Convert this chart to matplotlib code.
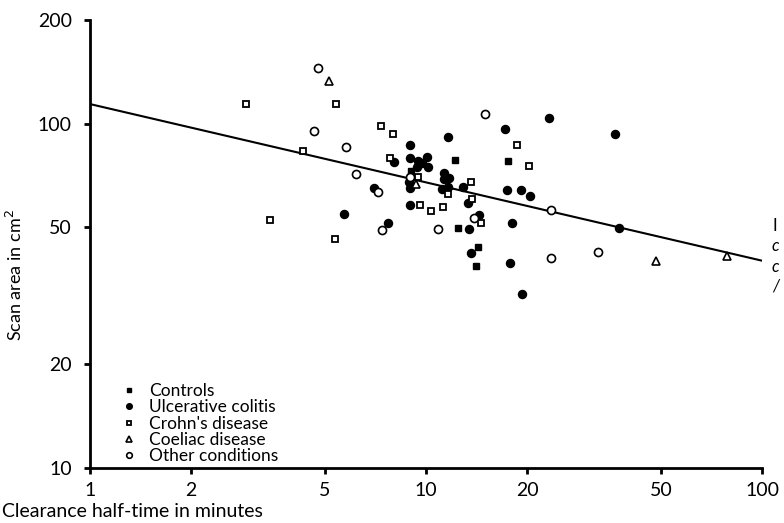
import matplotlib
matplotlib.use("Agg")
import matplotlib.pyplot as plt

# ---- data ----
controls_x = [9.00, 12.22, 17.51, 12.43, 14.31, 14.09]
controls_y = [72.9, 78.5, 77.9, 49.9, 43.7, 38.7]

uc_x = [5.69, 6.98, 7.70, 8.01, 8.98, 8.99, 8.93, 8.98, 8.96,
        9.47, 10.05, 9.38, 10.16, 9.75,
        11.60, 11.33, 11.73, 11.31, 11.13, 11.65, 12.86, 13.29, 14.41,
        13.40, 13.57, 17.19, 23.28, 17.48, 19.17, 20.40, 18.09, 17.84,
        19.27, 36.4, 37.6]
uc_y = [54.8, 64.9, 51.6, 77.3, 86.9, 79.7, 67.8, 64.9, 58.0,
        78.0, 80.0, 74.8, 74.8, 76.8,
        91.5, 71.9, 69.5, 68.9, 64.6, 65.3, 65.5, 58.7, 54.4,
        49.4, 42.1, 96.6, 104.1, 64.3, 64.0, 61.5, 51.6, 39.3,
        32.1, 93.1, 49.7]

crohn_x = [2.91, 5.39, 4.30, 7.35, 7.96, 7.81, 3.43, 5.37, 9.49, 9.60,
           10.35, 11.25, 11.63, 13.59, 13.71, 14.61, 18.72, 20.3]
crohn_y = [113.8, 113.8, 83.1, 98.5, 93.3, 79.3, 52.4, 46.1, 69.8, 58.2,
           55.6, 57.4, 62.5, 67.5, 60.6, 51.3, 86.6, 75.3]

coeliac_x = [5.16, 48.5, 78.7, 9.32]
coeliac_y = [132.6, 39.95, 41.2, 66.9]

other_x = [4.78, 4.64, 5.79, 6.20, 7.18, 7.41, 14.95, 10.82, 8.94, 13.94,
           23.6, 23.6, 32.4]
other_y = [145.0, 95.4, 85.3, 71.2, 63.2, 49.1, 106.4, 49.3, 69.9, 53.1,
           56.2, 40.6, 42.3]

fit_x = [1, 100]
fit_y = [114, 40]

x_ticks = [1, 2, 5, 10, 20, 50, 100]
y_ticks = [10, 20, 50, 100, 200]

labels = ["Controls", "Ulcerative colitis", "Crohn's disease",
          "Coeliac disease", "Other conditions"]

# ---- figure ----
plt.rcParams['font.family'] = ['Lato', 'DejaVu Sans']
fig = plt.figure(figsize=(7.84, 5.23), dpi=100)
ax = fig.add_axes([90/784, 1 - 468/523, 672/784, 448/523])

ax.set_xscale('log')
ax.set_yscale('log')
ax.set_xlim(1, 100)
ax.set_ylim(10, 200)

ax.plot(fit_x, fit_y, color='black', lw=1.5, zorder=2)

ms = 5.8
ax.plot(controls_x, controls_y, ls='none', marker='s', ms=5.0,
        mfc='black', mec='black', label=labels[0], zorder=3)
ax.plot(uc_x, uc_y, ls='none', marker='o', ms=ms,
        mfc='black', mec='black', label=labels[1], zorder=3)
ax.plot(crohn_x, crohn_y, ls='none', marker='s', ms=4.6,
        mfc='white', mec='black', mew=1.3, label=labels[2], zorder=3)
ax.plot(coeliac_x, coeliac_y, ls='none', marker='^', ms=5.2,
        mfc='white', mec='black', mew=1.2, label=labels[3], zorder=3)
ax.plot(other_x, other_y, ls='none', marker='o', ms=ms,
        mfc='white', mec='black', mew=1.2, label=labels[4], zorder=3)

ax.set_xticks(x_ticks)
ax.set_xticklabels([str(v) for v in x_ticks])
ax.set_yticks(y_ticks)
ax.set_yticklabels([str(v) for v in y_ticks])
ax.minorticks_off()
ax.tick_params(axis='both', direction='out', length=4, width=2,
               labelsize=14)
ax.tick_params(axis='y', pad=9)
ax.tick_params(axis='x', pad=6)

for s in ['top', 'right']:
    ax.spines[s].set_visible(False)
for s in ['left', 'bottom']:
    ax.spines[s].set_linewidth(2)

ax.set_xlabel("Clearance half-time in minutes", fontsize=14,
              ha='left', va='top')
ax.xaxis.set_label_coords(-88/672, -0.079)
ax.set_ylabel("Scan area in cm$^2$", fontsize=13)
ax.yaxis.set_label_coords(-0.097, 0.43)

leg = ax.legend(loc='lower left', bbox_to_anchor=(0.047, 0.008),
                frameon=False, fontsize=12.5, handlelength=0.9,
                handletextpad=0.7, labelspacing=0.02, borderpad=0,
                borderaxespad=0, markerscale=0.7)

# caption fragments at the right edge
fig.text(772/784, 1 - 226/523, "I", fontsize=12, va='center', ha='left')
fig.text(772/784, 1 - 246/523, "c", fontsize=12, va='center', ha='left',
         style='italic')
fig.text(772/784, 1 - 267/523, "c", fontsize=12, va='center', ha='left',
         style='italic')
fig.text(772/784, 1 - 286/523, "/", fontsize=12, va='center', ha='left',
         style='italic')

fig.savefig("out.png", dpi=100)
